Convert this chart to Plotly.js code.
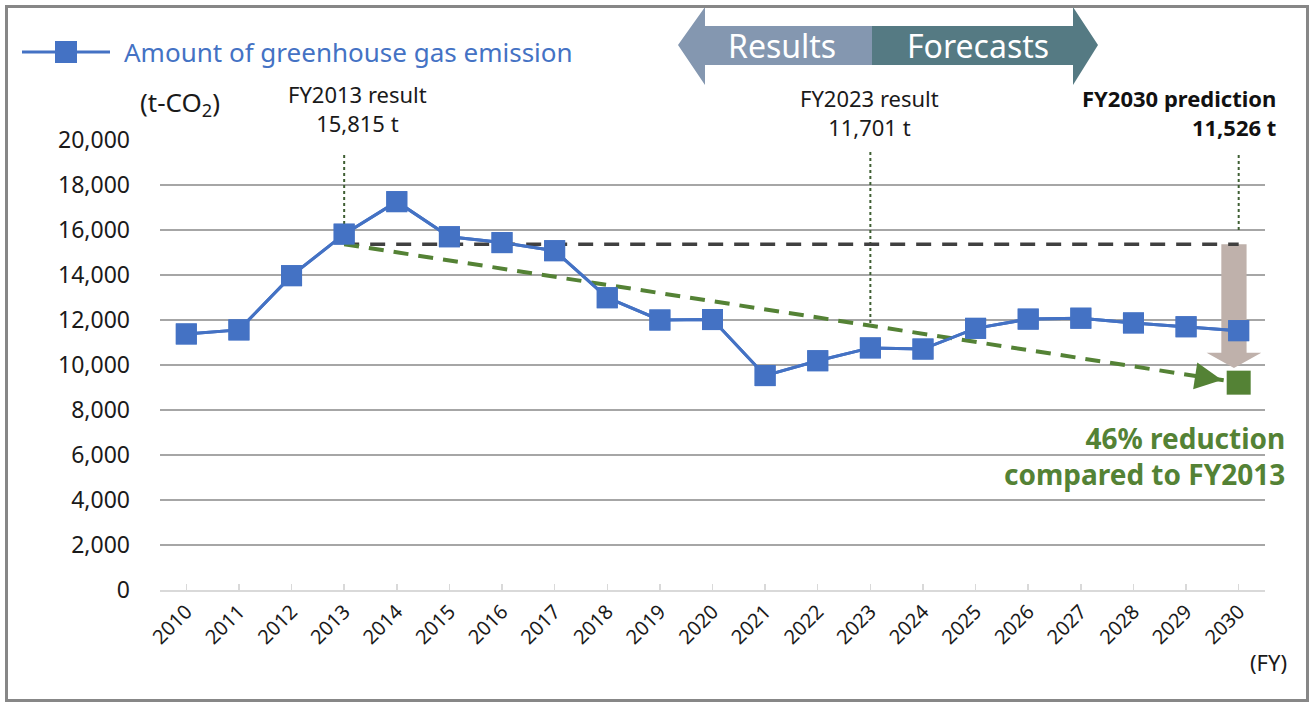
<!DOCTYPE html>
<html>
<head>
<meta charset="utf-8">
<script src="https://cdn.plot.ly/plotly-3.0.1.min.js"></script>
<style>
  html, body { margin: 0; padding: 0; background: #fff; }
  #chart { position: absolute; left: 0; top: 0; width: 1314px; height: 702px; }
  #frame { position: absolute; left: 5px; top: 5px; width: 1304px; height: 697px;
           border: 3px solid #878787; box-sizing: border-box; pointer-events: none; }
</style>
</head>
<body>
<div id="chart"></div>
<div id="frame"></div>
<script>
// ---- data ----
const years = ['2010','2011','2012','2013','2014','2015','2016','2017','2018','2019','2020',
               '2021','2022','2023','2024','2025','2026','2027','2028','2029','2030'];
const emissions = [11380, 11560, 13970, 15815, 17260, 15700, 15440, 15080, 12990, 12000, 12020,
                   9530, 10190, 10760, 10710, 11630, 12040, 12080, 11870, 11700, 11526];
const yTickVals = [0, 2000, 4000, 6000, 8000, 10000, 12000, 14000, 16000, 18000, 20000];
const baselineYears = ['2013', '2030'];
const baselineLevel = [15370, 15370];
const targetYears = ['2013', '2030'];
const targetPath = [15370, 9215];
const targetYear = ['2030'];
const targetValue = [9215];
const reductionArrow = [15370, 9870];     // top of shaft, tip of head
const markerYears = ['2013', '2023', '2030'];
const markerTop = [19330, 19470, 19330];
const markerBottom = [15815, 11701, 16000];

// ---- geometry helpers (layout only) ----
const M = {l: 160, r: 49, t: 140, b: 112};
const W = 1314 - M.l - M.r, H = 702 - M.t - M.b;
const fx = px => (px - M.l) / W;
const fy = py => (M.t + H - py) / H;

const blue = '#4472C4', green = '#548235';
const font = '"Noto Sans", "Open Sans", sans-serif';

const traces = [];
// main series first so category order follows the years
traces.push({x: years, y: emissions, mode: 'lines+markers', name: 'Amount of greenhouse gas emission',
  line: {color: blue, width: 3}, marker: {symbol: 'square', size: 21, color: blue},
  showlegend: false});
// vertical dotted marker lines
markerYears.forEach((yr, i) => {
  traces.push({x: [yr, yr], y: [markerTop[i], markerBottom[i]], mode: 'lines',
    line: {color: '#3f5f33', width: 2, dash: 'dot'}, hoverinfo: 'skip', showlegend: false});
});
// FY2013 level (black dashed)
traces.push({x: baselineYears, y: baselineLevel, mode: 'lines',
  line: {color: '#404040', width: 3.5, dash: '15px,11px'}, hoverinfo: 'skip', showlegend: false});
// reduction path (green dashed)
traces.push({x: targetYears, y: targetPath, mode: 'lines',
  line: {color: green, width: 4, dash: '15px,10px'}, hoverinfo: 'skip', showlegend: false});
// main series again on top of the guide lines
traces.push({x: years, y: emissions, mode: 'lines+markers', name: 'Amount of greenhouse gas emission',
  line: {color: blue, width: 3}, marker: {symbol: 'square', size: 21, color: blue},
  showlegend: false});
// target point
traces.push({x: targetYear, y: targetValue, mode: 'markers',
  marker: {symbol: 'square', size: 24, color: green}, showlegend: false});

// brown reduction arrow (shape, between grid and traces)
const i30 = years.indexOf('2030') - 0.09;
const shaftHalf = 0.24, headHalf = 0.52;
const headBase = reductionArrow[1] + 670;
const shapes = [
  {type: 'path', xref: 'x', yref: 'y', layer: 'between', line: {width: 0}, fillcolor: '#bfb1ab',
   path: `M${i30 - shaftHalf},${reductionArrow[0]} L${i30 + shaftHalf},${reductionArrow[0]} ` +
         `L${i30 + shaftHalf},${headBase} L${i30 + headHalf},${headBase} L${i30},${reductionArrow[1]} ` +
         `L${i30 - headHalf},${headBase} L${i30 - shaftHalf},${headBase} Z`},
  // Results (left) arrow
  {type: 'path', xref: 'paper', yref: 'paper', layer: 'above', line: {width: 0}, fillcolor: '#8497B0',
   path: `M${fx(678)},${fy(45)} L${fx(705)},${fy(7)} L${fx(705)},${fy(26)} L${fx(872)},${fy(26)} ` +
         `L${fx(872)},${fy(65)} L${fx(705)},${fy(65)} L${fx(705)},${fy(85)} Z`},
  // Forecasts (right) arrow
  {type: 'path', xref: 'paper', yref: 'paper', layer: 'above', line: {width: 0}, fillcolor: '#557A83',
   path: `M${fx(872)},${fy(26)} L${fx(1073)},${fy(26)} L${fx(1073)},${fy(7)} L${fx(1098)},${fy(45)} ` +
         `L${fx(1073)},${fy(85)} L${fx(1073)},${fy(65)} L${fx(872)},${fy(65)} Z`},
  // legend symbol
  {type: 'line', xref: 'paper', yref: 'paper', x0: fx(22), x1: fx(110), y0: fy(52), y1: fy(52),
   line: {color: blue, width: 3}},
  {type: 'rect', xref: 'paper', yref: 'paper', x0: fx(55), x1: fx(77), y0: fy(63), y1: fy(41),
   line: {width: 0}, fillcolor: blue}
];

const txt = (text, px, py, opts = {}) => Object.assign({
  text, xref: 'paper', yref: 'paper', x: fx(px), y: fy(py), showarrow: false,
  xanchor: 'center', yanchor: 'middle', font: {family: font, size: 22, color: '#1a1a1a'}
}, opts);

const tail = 19.2;
const tailVal = targetPath[0] + (targetPath[1] - targetPath[0]) * (tail - 3) / (20 - 3);
const boldBlack = {family: font, size: 22, color: '#111111', weight: 700};
const boldGreen = {family: font, size: 28, color: green, weight: 700};

const annotations = [
  txt('Amount of greenhouse gas emission', 122, 52, {xanchor: 'left', font: {family: font, size: 26, color: blue}}),
  txt('Results', 782, 45, {font: {family: font, size: 32, color: '#ffffff'}}),
  txt('Forecasts', 978, 45, {font: {family: font, size: 32, color: '#ffffff'}}),
  txt('(t-CO<sub>2</sub>)', 180, 103, {font: {family: font, size: 26, color: '#1a1a1a'}}),
  txt('FY2013 result<br>15,815 t', 357, 109),
  txt('FY2023 result<br>11,701 t', 869, 112.5),
  txt('<b>FY2030 prediction</b><br><b>11,526 t</b>', 1278, 113, {xanchor: 'right', align: 'right', font: boldBlack}),
  txt('<b>46% reduction</b><br><b>compared to FY2013</b>', 1287, 456,
      {xanchor: 'right', align: 'right', font: boldGreen}),
  txt('(FY)', 1268, 662, {font: {family: font, size: 22, color: '#1a1a1a'}}),
  {x: years.indexOf('2030'), y: targetValue[0], xref: 'x', yref: 'y',
   ax: tail, ay: tailVal, axref: 'x', ayref: 'y', text: '', showarrow: true,
   arrowhead: 2, arrowsize: 1.35, arrowwidth: 4, arrowcolor: green, standoff: 17}
];

const layout = {
  width: 1314, height: 702,
  margin: M,
  paper_bgcolor: '#ffffff', plot_bgcolor: '#ffffff',
  font: {family: font, color: '#1a1a1a'},
  showlegend: false,
  xaxis: {type: 'category', categoryorder: 'array', categoryarray: years,
          range: [-0.5, 20.5], tickangle: -45, showgrid: false,
          ticks: 'inside', ticklen: 6, tickcolor: '#d9d9d9', tickwidth: 1.5,
          showline: true, linecolor: '#d9d9d9', linewidth: 2,
          tickfont: {family: font, size: 20, color: '#1a1a1a'}, fixedrange: true},
  yaxis: {range: [0, 20000], tickvals: yTickVals, tickformat: ',d', showgrid: true,
          gridcolor: '#a6a6a6', gridwidth: 1.5, zeroline: false, showline: false,
          ticklabelstandoff: 29,
          tickfont: {family: font, size: 23, color: '#1a1a1a'}, fixedrange: true},
  shapes, annotations
};

Plotly.newPlot('chart', traces, layout, {displayModeBar: false, staticPlot: true});
</script>
</body>
</html>
